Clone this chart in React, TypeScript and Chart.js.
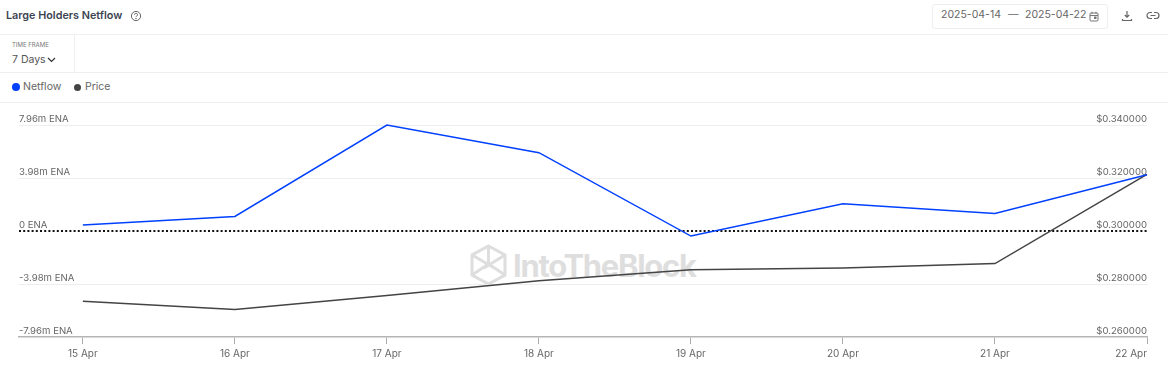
import React, { useEffect, useRef } from "react";
import { Chart, registerables } from "chart.js";

Chart.register(...registerables);

const dayLabels = ["15 Apr", "16 Apr", "17 Apr", "18 Apr", "19 Apr", "20 Apr", "21 Apr", "22 Apr"];
const netflowValues = [0.45, 1.09, 7.96, 5.88, -0.38, 2.04, 1.32, 4.22];
const priceValues = [0.2735, 0.2704, 0.2757, 0.2812, 0.2854, 0.286, 0.2877, 0.3214];
const netflowTicks = [-7.96, -3.98, 0, 3.98, 7.96];
const priceTicks = [0.26, 0.28, 0.3, 0.32, 0.34];

const FONT = "Inter, 'Noto Sans', sans-serif";
const BLUE = "#0040ff";
const DARK = "#444444";
const X_MIN = -0.42;

const sep = (top: number): React.CSSProperties => ({
  position: "absolute", left: 0, width: 1168, top, height: 1, background: "#efefef",
});
const abs = (left: number, top: number, extra: React.CSSProperties = {}): React.CSSProperties => ({
  position: "absolute", left, top, whiteSpace: "nowrap", ...extra,
});

export default function App() {
  const ref = useRef<HTMLCanvasElement>(null);
  useEffect(() => {
    const chart = new Chart(ref.current!, {
      type: "line",
      data: {
        datasets: [
          {
            label: "Netflow", yAxisID: "y", clip: false,
            data: netflowValues.map((y, x) => ({ x, y })),
            borderColor: BLUE, borderWidth: 1.5, pointRadius: 0, tension: 0,
          },
          {
            label: "Price", yAxisID: "y1", clip: false,
            data: priceValues.map((y, x) => ({ x, y })),
            borderColor: DARK, borderWidth: 1.5, pointRadius: 0, tension: 0,
          },
        ],
      },
      options: {
        animation: false,
        responsive: false,
        layout: { padding: { left: 19, right: 21, top: 23, bottom: 9 } },
        plugins: { legend: { display: false }, tooltip: { enabled: false } },
        scales: {
          x: {
            type: "linear", min: X_MIN, max: 7,
            afterBuildTicks: (a: any) => {
              a.ticks = [{ value: X_MIN }, ...dayLabels.map((_, i) => ({ value: i }))];
            },
            ticks: {
              autoSkip: false, maxRotation: 0, padding: 4, align: "inner",
              color: "#666", font: { family: FONT, size: 10 },
              callback: (v: any) => (v === X_MIN ? "" : dayLabels[v]),
            },
            grid: {
              drawOnChartArea: false, tickLength: 7, lineWidth: 1,
              color: (c: any) => (c.tick?.value === X_MIN ? "transparent" : "#aaa"),
            },
            border: { color: "#b5b5b5", width: 1.5 },
          },
          y: {
            position: "left", min: -7.96, max: 7.96,
            afterBuildTicks: (a: any) => { a.ticks = netflowTicks.map((value) => ({ value })); },
            ticks: {
              mirror: true, padding: 0, labelOffset: -5.5,
              color: "#666", font: { family: FONT, size: 9.6 },
              callback: (v: any) => (v === 0 ? "0 ENA" : `${v}m ENA`),
            },
            grid: {
              drawTicks: false,
              color: (c: any) => (c.tick?.value === 0 ? "#111" : c.tick?.value === -7.96 ? "transparent" : "#eeeeee"),
              lineWidth: (c: any) => (c.tick?.value === 0 ? 2 : 1),
            },
            border: {
              display: false,
              dash: (c: any) => (c.tick?.value === 0 ? [2, 2.2] : []),
            } as any,
          },
          y1: {
            position: "right", min: 0.26, max: 0.34,
            afterBuildTicks: (a: any) => { a.ticks = priceTicks.map((value) => ({ value })); },
            ticks: {
              mirror: true, padding: 0, labelOffset: -5.5,
              color: "#666", font: { family: FONT, size: 9.6 },
              callback: (v: any) => "$" + Number(v).toFixed(6),
            },
            grid: { display: false, drawTicks: false },
            border: { display: false },
          },
        },
      },
    } as any);
    return () => chart.destroy();
  }, []);

  return (
    <div style={{ position: "fixed", left: 0, top: 0, width: 1168, height: 373, background: "#fff", overflow: "hidden", fontFamily: FONT, color: "#444" }}>
      <div style={abs(6, 8, { fontSize: 10.8, fontWeight: 600, color: "#3c4452", lineHeight: "16px" })}>Large Holders Netflow</div>
      <svg style={abs(130, 10)} width="12" height="12" viewBox="0 0 12 12" fill="none" stroke="#666" strokeWidth="1">
        <circle cx="6" cy="6" r="4.6" />
        <path d="M4.5 4.8a1.5 1.5 0 1 1 2.2 1.3c-.5.3-.7.5-.7 1" />
        <circle cx="6" cy="8.6" r=".3" />
      </svg>

      <div style={abs(932, 4, { width: 174, height: 23, border: "1px solid #eee", borderRadius: 3, boxSizing: "content-box" })} />
      <div style={abs(941, 8, { fontSize: 10.5, color: "#666", lineHeight: "14px" })}>2025-04-14</div>
      <div style={abs(1008, 8, { fontSize: 10.5, color: "#666", lineHeight: "14px" })}>—</div>
      <div style={abs(1025, 8, { fontSize: 10.5, color: "#666", lineHeight: "14px" })}>2025-04-22</div>
      <svg style={abs(1089, 11)} width="10" height="11" viewBox="0 0 10 11" fill="none" stroke="#777" strokeWidth="1">
        <rect x="1" y="2" width="8" height="8" rx="1" /><path d="M1 4.5h8M3 .8v2M7 .8v2" /><rect x="5.5" y="6" width="1.5" height="1.5" fill="#777" />
      </svg>
      <svg style={abs(1121, 10)} width="12" height="12" viewBox="0 0 12 12" fill="none" stroke="#666" strokeWidth="1.2">
        <path d="M6 1v6M3.8 5 6 7.2 8.2 5M1.5 9v1.500h9V9" />
      </svg>
      <svg style={abs(1146, 11)} width="14" height="10" viewBox="0 0 14 10" fill="none" stroke="#666" strokeWidth="1.2">
        <path d="M6 1.5H4a3 3 0 0 0 0 6h2M8 1.5h2a3 3 0 0 1 0 6H8M4.5 4.5h5" />
      </svg>

      <div style={sep(34)} />
      <div style={abs(74, 34, { width: 1, height: 38, background: "#efefef" })} />
      <div style={abs(12, 41, { fontSize: 6, color: "#777", lineHeight: "8px" })}>TIME FRAME</div>
      <div style={abs(12, 52, { fontSize: 10.5, color: "#555", lineHeight: "15px" })}>7 Days</div>
      <svg style={abs(47, 57)} width="9" height="6" viewBox="0 0 9 6" fill="none" stroke="#333" strokeWidth="1.2">
        <path d="M1 1l3.5 3.5L8 1" />
      </svg>
      <div style={sep(72)} />

      <div style={abs(12, 83, { width: 8, height: 8, borderRadius: "50%", background: BLUE })} />
      <div style={abs(23, 79, { fontSize: 10.5, color: "#666", lineHeight: "15px" })}>Netflow</div>
      <div style={abs(74, 84, { width: 7, height: 7, borderRadius: "50%", background: DARK })} />
      <div style={abs(85, 79, { fontSize: 10.5, color: "#666", lineHeight: "15px" })}>Price</div>
      <div style={sep(102)} />

      <svg style={abs(470, 244)} width="37" height="42" viewBox="0 0 37 42" fill="none" stroke="#dedede" strokeWidth="3">
        <path d="M18.5 2 35 11v20l-16.500 9L2 31V11Z" />
        <path d="M18.5 2v18L35 31M18.500 20 2 31M2 11l24 14M35 11 14 24" />
      </svg>
      <div style={abs(513, 247, { fontSize: 31, fontWeight: 700, color: "#dedede", lineHeight: "38px", letterSpacing: -1.3 })}>IntoTheBlock</div>

      <canvas ref={ref} width={1168} height={271} style={{ position: "absolute", left: 0, top: 102, width: 1168, height: 271 }} />
    </div>
  );
}
